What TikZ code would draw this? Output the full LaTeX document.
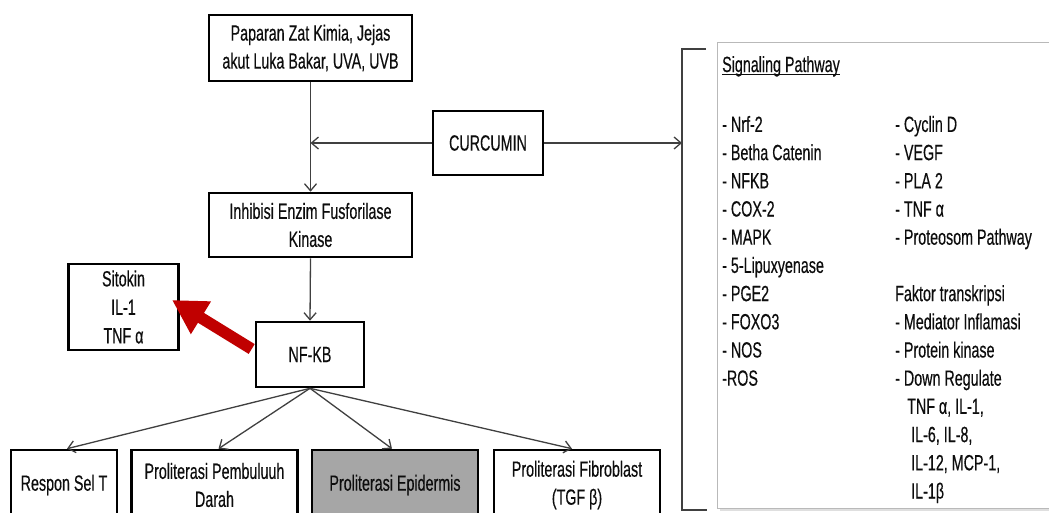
\documentclass[tikz,border=0pt]{standalone}
\usepackage{fontspec}
\setmainfont[FakeStretch=0.65,FakeBold=0.35]{Liberation Sans}
\usetikzlibrary{arrows.meta}
\definecolor{redar}{HTML}{C00000}
\definecolor{epigray}{HTML}{A6A6A6}
\definecolor{txt}{HTML}{0D0D0D}
\begin{document}
\begin{tikzpicture}[x=1pt,y=-1pt,
  box/.style={draw=black,line width=2.6pt,fill=white,inner sep=0pt,align=center,text=txt,font=\fontsize{22}{28}\selectfont},
  conn/.style={draw=black!75,line width=1.3pt,-{Straight Barb[length=7pt,width=12pt]}},
  ptext/.style={inner sep=0pt,anchor=base west,text=txt,font=\fontsize{22}{26}\selectfont},
  redarrow/.style={draw=redar,line width=11.5pt,-{Triangle[length=34pt,width=36pt]}}]
\fill[white] (0,0) rectangle (1049,512);
\useasboundingbox (0,0) rectangle (1049,512);
% right panel
\fill[gray!25] (719.5,44.5) rectangle (1070,511);
\node[draw=gray!55,line width=1.2pt,fill=white,minimum width=360pt,minimum height=466pt,anchor=north west,inner sep=0pt] (panel) at (717,42) {};
\node[ptext] (title) at (722,72) {Signaling Pathway};
\draw[txt,line width=1.1pt] ([yshift=-2.5pt]title.base west) -- ([yshift=-2.5pt]title.base east);
\foreach \t [count=\i from 0] in {{- Nrf-2},{- Betha Catenin},{- NFKB},{- COX-2},{- MAPK},{- 5-Lipuxyenase},{- PGE2},{- FOXO3},{- NOS},{-ROS}}
  \node[ptext] (la\i) at (722,131.9+28.2*\i) {\t};
\foreach \t [count=\i from 0] in {{- Cyclin D},{- VEGF},{- PLA 2},{- TNF α},{- Proteosom Pathway}}
  \node[ptext] (lb\i) at (895,131.9+28.2*\i) {\t};
\node[ptext] (lb6) at (895,131.9+28.2*6) {Faktor transkripsi};
\node[ptext] (lb7) at (895,131.9+28.2*7) {- Mediator Inflamasi};
\node[ptext] (lb8) at (895,131.9+28.2*8) {- Protein kinase};
\node[ptext] (lb9) at (895,131.9+28.2*9) {- Down Regulate};
\node[ptext] (lb10) at (907,131.9+28.2*10) {TNF α, IL-1,};
\node[ptext] (lb11) at (911,131.9+28.2*11) {IL-6, IL-8,};
\node[ptext] (lb12) at (911,131.9+28.2*12) {IL-12, MCP-1,};
\node[ptext] (lb13) at (911,131.9+28.2*13) {IL-1β};
% bracket
\coordinate (b1) at (706,49);
\coordinate (b2) at (682,49);
\coordinate (b3) at (682,510);
\coordinate (b4) at (707,510);
\coordinate (brk) at (682,143);
\draw[black!75,line width=1.3pt] (b1) -- (b2) -- (b3) -- (b4);
% boxes
\node[box,minimum width=203pt,minimum height=66pt] (top) at (310.5,48) {Paparan Zat Kimia, Jejas\\akut Luka Bakar, UVA, UVB};
\node[box,minimum width=110pt,minimum height=64pt] (curc) at (488,143) {CURCUMIN};
\node[box,minimum width=203pt,minimum height=64pt] (inh) at (310.5,225) {Inhibisi Enzim Fusforilase\\Kinase};
\node[box,minimum width=110pt,minimum height=86pt,font=\fontsize{22}{28.5}\selectfont] (sit) at (123.5,307) {Sitokin\\IL-1\\TNF α};
\node[box,minimum width=108pt,minimum height=65pt] (nfkb) at (310,354.5) {NF-KB};
\node[box,minimum width=106pt,minimum height=70pt] (respon) at (64,485) {Respon Sel T};
\node[box,minimum width=166pt,minimum height=70pt] (pemb) at (214.5,485) {Proliterasi Pembuluuh\\Darah};
\node[box,minimum width=166pt,minimum height=70pt,fill=epigray] (epid) at (395,485) {Proliterasi Epidermis};
\node[box,minimum width=166pt,minimum height=70pt] (fibro) at (577,485) {Proliterasi Fibroblast\\(TGF β)};
% connectors
\draw[conn] (top.south) -- (inh.north);
\draw[conn] (curc.west) -- (top.south |- curc.west);
\draw[conn] (curc.east) -- (brk);
\draw[conn] (inh.south) -- (nfkb.north);
\draw[conn] (nfkb.south) -- ([xshift=3pt]respon.north);
\draw[conn] (nfkb.south) -- ([xshift=4pt]pemb.north);
\draw[conn] (nfkb.south) -- ([xshift=-3pt]epid.north);
\draw[conn] (nfkb.south) -- ([xshift=-5pt]fibro.north);
\draw[redarrow] ([xshift=-3pt,yshift=5.5pt]nfkb.west) -- ([xshift=-7.8pt,yshift=7pt]sit.east);
\end{tikzpicture}
\end{document}
